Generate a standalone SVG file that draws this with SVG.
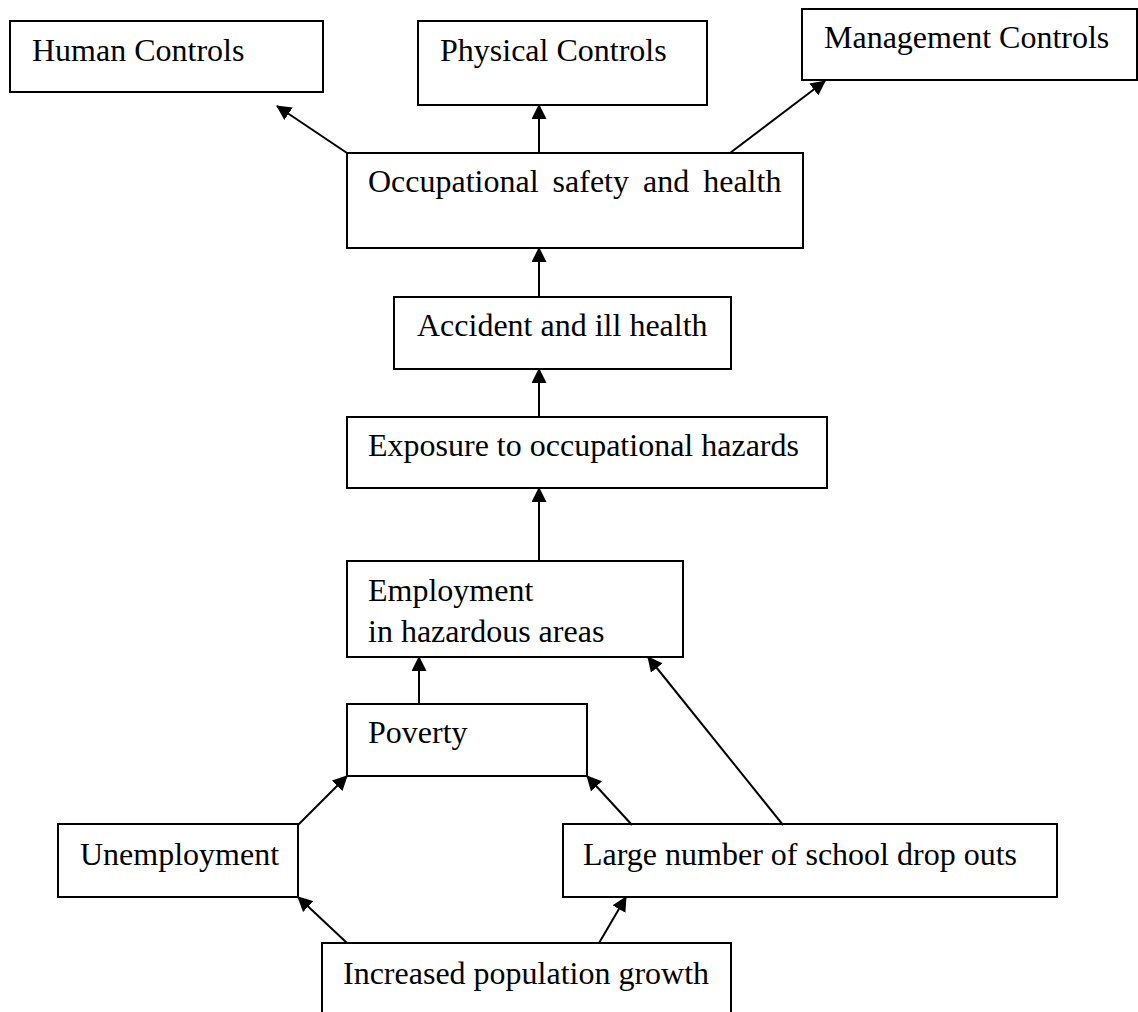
<svg xmlns="http://www.w3.org/2000/svg" width="1138" height="1012" viewBox="0 0 1138 1012">
<style>
  rect.box { fill: #fff; stroke: #000; stroke-width: 2; }
  text { font-family: "Liberation Serif", "Times New Roman", serif; font-size: 32px; fill: #000; }
  .conn line { stroke: #000; stroke-width: 2; marker-end: url(#arr); }
</style>
<defs>
  <marker id="arr" markerUnits="userSpaceOnUse" markerWidth="15" markerHeight="15" refX="14" refY="7.5" orient="auto" viewBox="0 0 15 15">
    <path d="M0,0 L15,7.5 L0,15 z" fill="#000"/>
  </marker>
</defs>
<rect width="1138" height="1012" fill="#fff"/>
<g id="human"><rect class="box" x="10" y="21" width="313" height="71"/><text x="32" y="61">Human Controls</text></g>
<g id="physical"><rect class="box" x="418" y="21" width="289" height="84"/><text x="440" y="61">Physical Controls</text></g>
<g id="management"><rect class="box" x="802" y="9" width="335" height="71"/><text x="824" y="48">Management Controls</text></g>
<g id="osh"><rect class="box" x="347" y="153" width="456" height="95"/><text x="368" y="192" word-spacing="6">Occupational safety and health</text></g>
<g id="accident"><rect class="box" x="394" y="297" width="337" height="72"/><text x="417" y="336">Accident and ill health</text></g>
<g id="exposure"><rect class="box" x="347" y="417" width="480" height="71"/><text x="368" y="456">Exposure to occupational hazards</text></g>
<g id="employment"><rect class="box" x="347" y="561" width="336" height="96"/><text x="368" y="601">Employment</text><text x="368" y="642">in hazardous areas</text></g>
<g id="poverty"><rect class="box" x="347" y="704" width="240" height="72"/><text x="368" y="743">Poverty</text></g>
<g id="unemployment"><rect class="box" x="58" y="824" width="240" height="73"/><text x="80" y="865">Unemployment</text></g>
<g id="dropouts"><rect class="box" x="563" y="824" width="494" height="73"/><text x="583" y="865">Large number of school drop outs</text></g>
<g id="population"><rect class="box" x="322" y="943" width="409" height="90"/><text x="343" y="984">Increased population growth</text></g>
<g class="conn" id="connectors">
  <line x1="347" y1="153" x2="277" y2="106"/>
  <line x1="539" y1="153" x2="539" y2="105"/>
  <line x1="730" y1="153" x2="825" y2="81"/>
  <line x1="539" y1="297" x2="539" y2="248"/>
  <line x1="539" y1="417" x2="539" y2="369"/>
  <line x1="539" y1="561" x2="539" y2="488"/>
  <line x1="419" y1="704" x2="419" y2="657"/>
  <line x1="298" y1="825" x2="347" y2="776"/>
  <line x1="632" y1="825" x2="587" y2="776"/>
  <line x1="783" y1="825" x2="648" y2="657"/>
  <line x1="347" y1="943" x2="298" y2="897"/>
  <line x1="599" y1="943" x2="626" y2="897"/>
</g>
</svg>
